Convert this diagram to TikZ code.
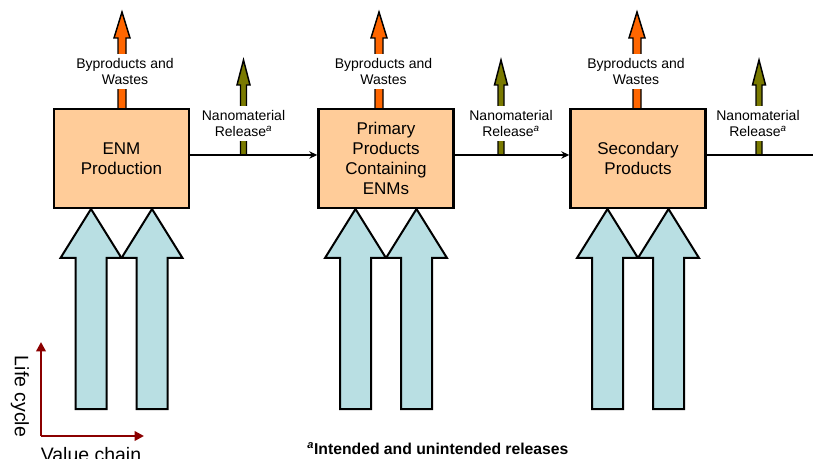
\documentclass[tikz,border=0pt]{standalone}
\usepackage{fontspec}
\setmainfont{Liberation Sans}
\usetikzlibrary{arrows.meta}
\definecolor{peach}{HTML}{FFCC99}
\definecolor{paleblue}{HTML}{B9DFE3}
\definecolor{orangeA}{HTML}{FF6600}
\definecolor{oliveA}{HTML}{7A7A00}
\definecolor{axisred}{HTML}{8B0000}
% #1 fill, #2 x, #3 tip y, #4 head base y, #5 bottom y, #6 head half width, #7 shaft half width
\newcommand{\UpArrowShape}[7]{%
  \filldraw[fill=#1] (#2-#7,#5) -- (#2-#7,#4) -- (#2-#6,#4) -- (#2,#3) -- (#2+#6,#4) -- (#2+#7,#4) -- (#2+#7,#5) -- cycle;}
\tikzset{
  procbox/.style={draw=black, line width=1.8pt, fill=peach, minimum width=101.25pt, minimum height=74.25pt,
    align=center, font=\fontsize{12.75}{14.8}\selectfont, inner sep=0pt},
  lbl/.style={fill=white, align=center, font=\fontsize{10.5}{12.4}\selectfont, inner xsep=1pt, inner ysep=3pt},
  flow/.style={line width=1.5pt, -{Stealth[length=6pt,width=5.5pt]}},
  flowplain/.style={line width=1.5pt},
  thinarrow/.style={line width=1.1pt, line join=miter},
  bluearrow/.style={line width=1.5pt, line join=miter},
  axis/.style={draw=axisred, line width=2.2pt, -{Triangle[length=7pt,width=7pt]}},
  axlbl/.style={font=\fontsize{14.6}{17}\selectfont}
}
\begin{document}
\begin{tikzpicture}[x=0.75pt, y=-0.75pt]
\useasboundingbox (0,0) rectangle (813,459);
% byproduct (orange) and release (olive) arrows
\begin{scope}[thinarrow]
  \UpArrowShape{orangeA}{122}{12}{38}{110}{8}{4}
  \UpArrowShape{orangeA}{379}{12}{38}{110}{8}{4}
  \UpArrowShape{orangeA}{637}{12}{38}{110}{8}{4}
  \UpArrowShape{oliveA}{243.5}{60}{85}{155}{6.5}{3}
  \UpArrowShape{oliveA}{501}{60}{85}{155}{6.5}{3}
  \UpArrowShape{oliveA}{759}{60}{85}{155}{6.5}{3}
\end{scope}
% labels
\node[lbl] (w1) at (125,71.5) {Byproducts and\\Wastes};
\node[lbl] (w2) at (383.5,71.5) {Byproducts and\\Wastes};
\node[lbl] (w3) at (636,71.5) {Byproducts and\\Wastes};
\node[lbl] (r1) at (243.5,123.5) {Nanomaterial\\Release\textsuperscript{\textit{a}}};
\node[lbl] (r2) at (511,123.5) {Nanomaterial\\Release\textsuperscript{\textit{a}}};
\node[lbl] (r3) at (758,123.5) {Nanomaterial\\Release\textsuperscript{\textit{a}}};
% process boxes
\node[procbox] (b1) at (121.5,158.5) {ENM\\Production};
\node[procbox] (b2) at (386,158.5) {Primary\\Products\\Containing\\ENMs};
\node[procbox] (b3) at (638,158.5) {Secondary\\Products};
% flow line
\coordinate (ly) at (0,155);
\coordinate (lineend) at (813,155);
\draw[flow] (b1.east |- ly) -- (b2.west |- ly);
\draw[flow] (b2.east |- ly) -- (b3.west |- ly);
\draw[flowplain] (b3.east |- ly) -- (lineend);
% input arrows
\begin{scope}[bluearrow]
  \UpArrowShape{paleblue}{91}{209}{258}{409}{30.5}{15.5}
  \UpArrowShape{paleblue}{152}{209}{258}{409}{30.5}{15.5}
  \UpArrowShape{paleblue}{355.5}{209}{258}{409}{30.5}{15.5}
  \UpArrowShape{paleblue}{416.5}{209}{258}{409}{30.5}{15.5}
  \UpArrowShape{paleblue}{607.5}{209}{258}{409}{30.5}{15.5}
  \UpArrowShape{paleblue}{668.5}{209}{258}{409}{30.5}{15.5}
\end{scope}
% axes
\coordinate (o) at (41,436);
\coordinate (yt) at (41,342);
\coordinate (xt) at (144,436);
\draw[axis] (o) -- (yt);
\draw[axis] (o) -- (xt);
\node[axlbl, rotate=-90] (lc) at (20,396.5) {Life cycle};
\node[axlbl, anchor=base] (vc) at (91,461) {Value chain};
% footnote
\node[anchor=base west, inner sep=0pt, font=\fontsize{11.8}{14}\selectfont\bfseries] (fn) at (307,454)
  {\textsuperscript{\textit{a}}Intended and unintended releases};
\end{tikzpicture}
\end{document}
